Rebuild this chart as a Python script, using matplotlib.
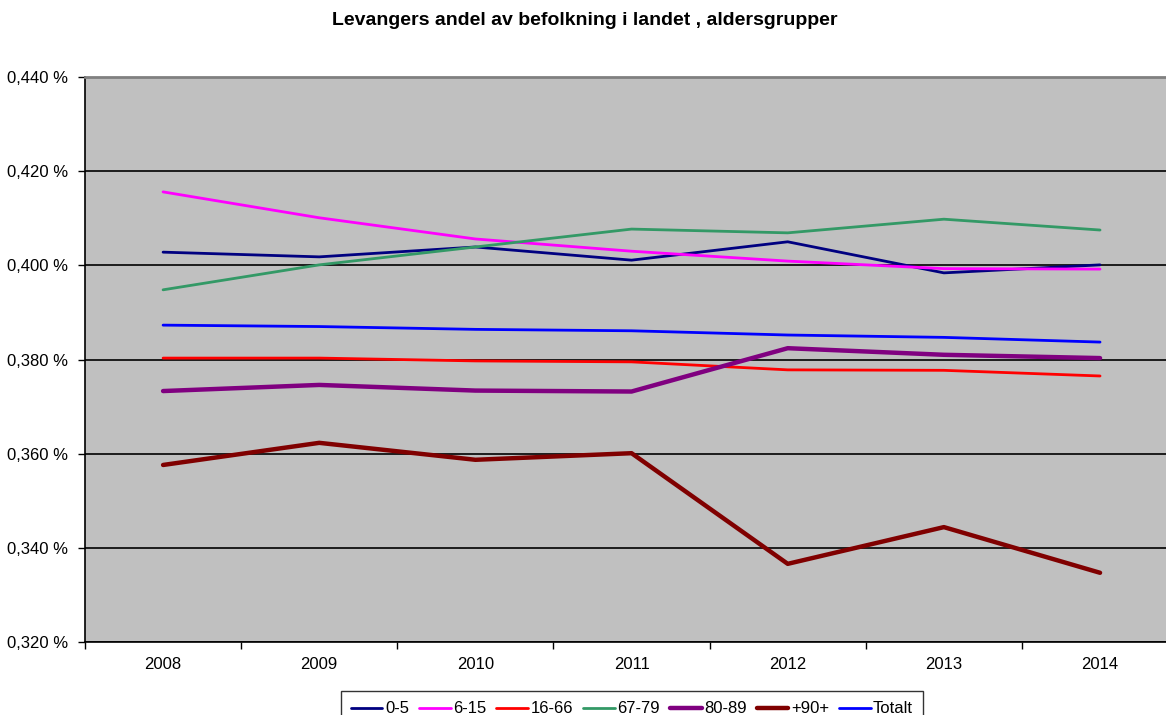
import matplotlib
matplotlib.use("Agg")
import matplotlib.pyplot as plt
from matplotlib.ticker import FixedLocator, FuncFormatter

plt.rcParams['font.family'] = ['Liberation Sans', 'DejaVu Sans']

years = ["2008", "2009", "2010", "2011", "2012", "2013", "2014"]
s_0_5 = [0.4028, 0.4018, 0.4039, 0.4011, 0.4050, 0.3984, 0.4001]
s_6_15 = [0.4156, 0.4101, 0.4056, 0.4030, 0.4009, 0.3993, 0.3992]
s_16_66 = [0.3803, 0.3803, 0.3797, 0.3795, 0.3778, 0.3777, 0.3765]
s_67_79 = [0.3948, 0.4001, 0.4039, 0.4077, 0.4069, 0.4098, 0.4075]
s_80_89 = [0.3733, 0.3746, 0.3734, 0.3732, 0.3824, 0.3810, 0.3803]
s_90 = [0.3576, 0.3623, 0.3587, 0.3601, 0.3366, 0.3444, 0.3347]
s_tot = [0.3873, 0.3870, 0.3864, 0.3861, 0.3852, 0.3847, 0.3837]

series = [
    ("0-5", s_0_5, "#000080", 2.0),
    ("6-15", s_6_15, "#FF00FF", 2.0),
    ("16-66", s_16_66, "#FF0000", 2.0),
    ("67-79", s_67_79, "#339966", 2.0),
    ("80-89", s_80_89, "#800080", 3.2),
    ("+90+", s_90, "#800000", 3.2),
    ("Totalt", s_tot, "#0000FF", 2.0),
]

fig = plt.figure(figsize=(11.66, 7.15), dpi=100)
ax = fig.add_axes([0.0729, 0.1021, 0.9375, 0.7902])
ax.set_facecolor("#C0C0C0")

x = list(range(len(years)))
for name, vals, col, lw in series:
    ax.plot(x, vals, color=col, lw=lw, label=name, solid_capstyle='round', zorder=3)

ax.set_xlim(-0.5, len(years) - 0.5)
ax.set_ylim(0.320, 0.440)
yt = [0.320, 0.340, 0.360, 0.380, 0.400, 0.420, 0.440]
ax.set_yticks(yt)
ax.yaxis.set_major_formatter(FuncFormatter(lambda v, p: f"{v:.3f} %".replace('.', ',')))
ax.grid(axis='y', color='black', lw=1.2, zorder=1)
ax.set_axisbelow(True)

ax.set_xticks(x)
ax.set_xticklabels(years)
ax.xaxis.set_minor_locator(FixedLocator([i - 0.5 for i in range(len(years) + 1)]))
ax.tick_params(axis='x', which='major', length=0, pad=11, labelsize=12)
ax.tick_params(axis='x', which='minor', length=5, width=1, direction='out')
ax.tick_params(axis='y', length=5, width=1, direction='out', labelsize=12, pad=7)

ax.spines['top'].set_color('#808080')
ax.spines['top'].set_linewidth(2)
ax.spines['right'].set_visible(False)
ax.spines['left'].set_color('black')
ax.spines['bottom'].set_color('black')
ax.spines['left'].set_linewidth(1.2)
ax.spines['bottom'].set_linewidth(1.2)

fig.text(0.5015, 0.972, "Levangers andel av befolkning i landet , aldersgrupper",
         ha='center', va='center', fontsize=14, fontweight='bold')

leg = fig.legend(loc='upper center', bbox_to_anchor=(0.542, 0.033), ncol=7,
                 frameon=True, fancybox=False, edgecolor='black', fontsize=12,
                 handlelength=1.9, handletextpad=0.15, columnspacing=0.6,
                 borderpad=0.6, borderaxespad=0)
leg.get_frame().set_linewidth(1.0)

fig.savefig("out.png", dpi=100)
